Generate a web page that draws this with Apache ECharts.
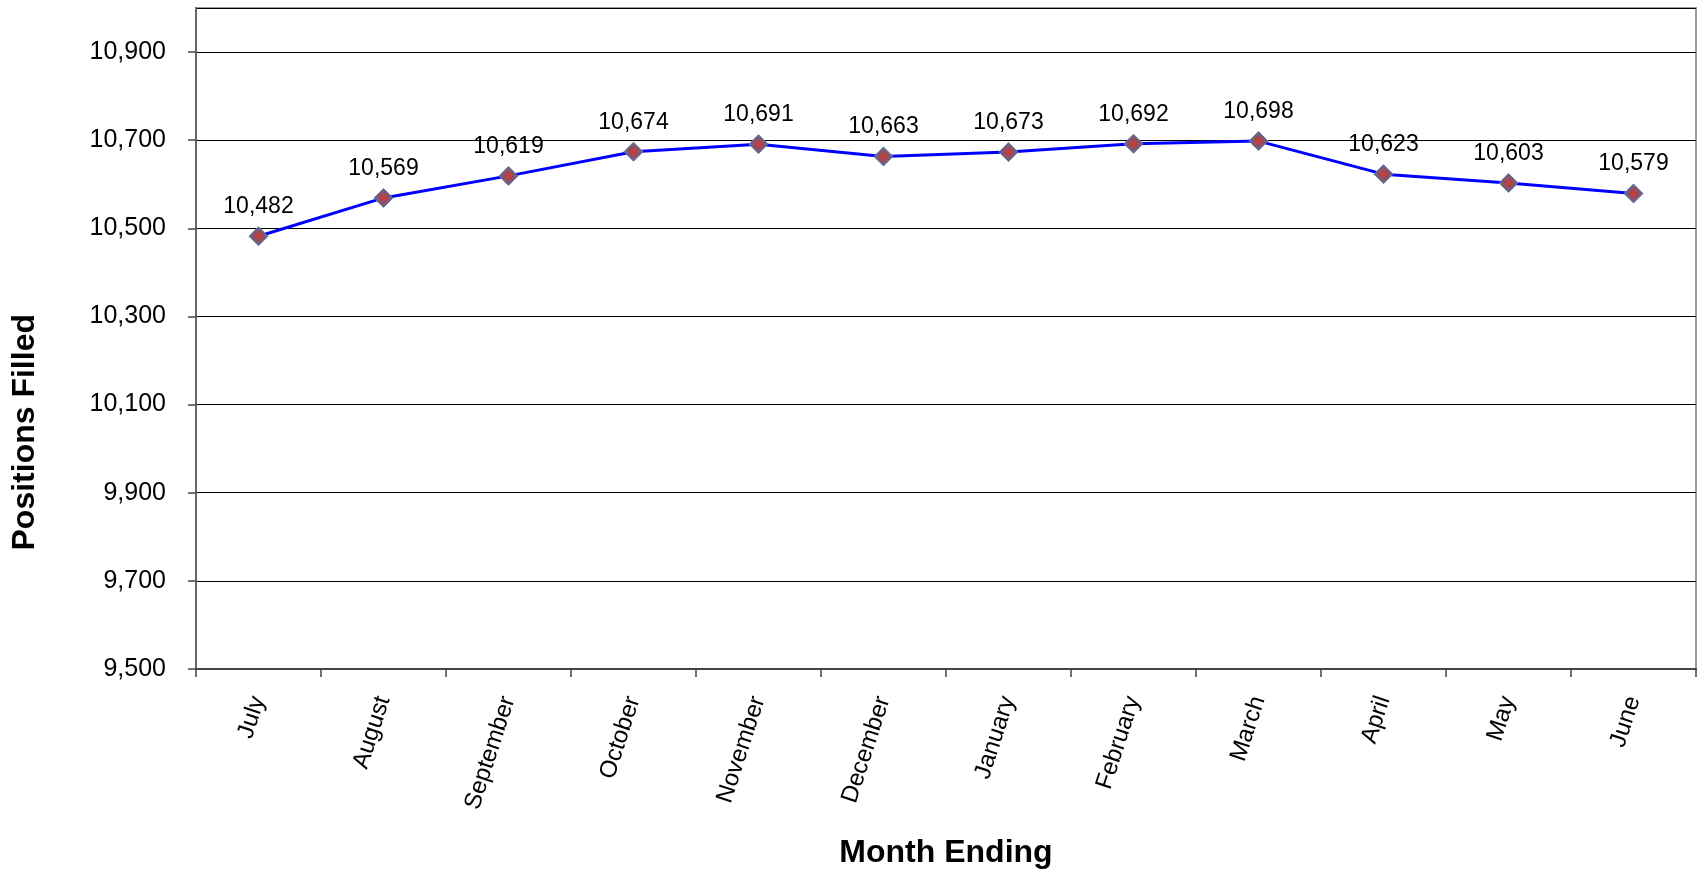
<!DOCTYPE html>
<html>
<head>
<meta charset="utf-8">
<script src="https://cdn.jsdelivr.net/npm/echarts@6/dist/echarts.min.js"></script>
<style>
  html, body { margin: 0; padding: 0; background: #fff; }
  #chart { width: 1704px; height: 874px; }
</style>
</head>
<body>
<div id="chart"></div>
<script>
const months = ['July', 'August', 'September', 'October', 'November', 'December',
  'January', 'February', 'March', 'April', 'May', 'June'];
const positionsFilled = [10482, 10569, 10619, 10674, 10691, 10663, 10673, 10692, 10698, 10623, 10603, 10579];
const yMin = 9500;
const yMax = 11000;
const yStep = 200;

const font = 'Liberation Sans, Arial, sans-serif';
const fmt = v => String(v).replace(/\B(?=(\d{3})+(?!\d))/g, ',');

let myChart = echarts.init(document.getElementById('chart'));
let option = {
  animation: false,
  grid: {
    left: 196,
    right: 8,
    top: 8,
    bottom: 205,
    show: true,
    borderColor: '#999',
    borderWidth: 2,
    backgroundColor: '#fff'
  },
  xAxis: {
    type: 'category',
    data: months,
    boundaryGap: true,
    name: 'Month Ending',
    nameLocation: 'middle',
    nameGap: 168,
    nameTextStyle: { fontFamily: font, fontSize: 32, fontWeight: 'bold', color: '#000' },
    axisLine: { lineStyle: { color: '#444', width: 2 } },
    axisTick: { show: true, length: 8, lineStyle: { color: '#444', width: 1.5 } },
    axisLabel: {
      rotate: 72,
      margin: 28,
      fontFamily: font,
      fontSize: 24,
      color: '#000'
    }
  },
  yAxis: {
    type: 'value',
    min: yMin,
    max: yMax,
    interval: yStep,
    axisLine: { show: true, lineStyle: { color: '#666', width: 2 } },
    axisTick: { show: true, length: 8, lineStyle: { color: '#444', width: 1.5 } },
    axisLabel: {
      margin: 30,
      showMaxLabel: false,
      fontFamily: font,
      fontSize: 25,
      color: '#000',
      formatter: fmt
    },
    splitLine: { show: true, lineStyle: { color: '#000', width: 1 } }
  },
  graphic: [
    {
      type: 'text',
      left: 9,
      top: 314,
      rotation: Math.PI / 2,
      style: {
        text: 'Positions Filled',
        fontFamily: font,
        fontSize: 32,
        fontWeight: 'bold',
        fill: '#000'
      }
    }
  ],
  series: [
    {
      name: 'Positions Filled',
      type: 'line',
      data: positionsFilled,
      symbol: 'diamond',
      symbolSize: 19,
      lineStyle: { color: '#0000ff', width: 3 },
      itemStyle: {
        color: {
          type: 'radial', x: 0.5, y: 0.5, r: 0.5,
          colorStops: [
            { offset: 0, color: '#d8392e' },
            { offset: 0.4, color: '#9a4a5a' },
            { offset: 1, color: '#4f73a0' }
          ]
        },
        borderColor: '#5a7aa5',
        borderWidth: 1
      },
      label: {
        show: true,
        position: 'top',
        distance: 8,
        fontFamily: font,
        fontSize: 23,
        color: '#000',
        formatter: p => fmt(p.value)
      }
    }
  ]
};

option && myChart.setOption(option);
</script>
</body>
</html>
